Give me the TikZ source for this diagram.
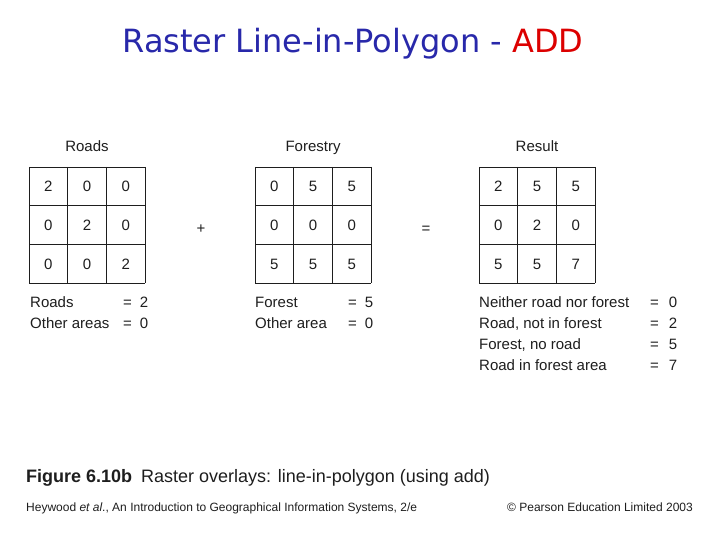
\documentclass[tikz,border=0pt]{standalone}
\usepackage{fontspec}
\setmainfont{Liberation Sans}
\newfontfamily\titlefont{DejaVu Sans}
\definecolor{tblue}{RGB}{40,40,170}
\definecolor{tred}{RGB}{220,0,0}
\definecolor{gridc}{RGB}{30,30,30}
\begin{document}
\begin{tikzpicture}[x=1pt,y=-1pt,
  txt/.style={inner sep=0pt,font=\fontsize{15}{17}\selectfont,text=gridc,text height=10.8pt,text depth=3pt},
  lt/.style={txt,anchor=west},
  num/.style={txt}]
\useasboundingbox[fill=white] (0,0) rectangle (720,540);
\node[inner sep=0pt,font=\titlefont\fontsize{32}{36}\selectfont] (title) at (353,44) {\textcolor{tblue}{Raster Line-in-Polygon - }\textcolor{tred}{ADD}};
% grids
\foreach \gx/\name/\lab/\vals in {29/roads/Roads/{2,0,0,0,2,0,0,0,2},255/forest/Forestry/{0,5,5,0,0,0,5,5,5},479/result/Result/{2,5,5,0,2,0,5,5,7}}{
  \foreach \k in {0,1,2,3}{
    \draw[gridc,line width=0.8pt] (\gx+38.7*\k,167) -- (\gx+38.7*\k,283.1);
    \draw[gridc,line width=0.8pt] (\gx,167+38.7*\k) -- (\gx+116.1,167+38.7*\k);
  }
  \node[txt] (\name-h) at (\gx+58,148) {\lab};
  \foreach \v [count=\i from 0] in \vals {
    \pgfmathtruncatemacro\r{int(\i/3)}
    \pgfmathtruncatemacro\c{mod(\i,3)}
    \node[num] (\name-\i) at (\gx+19.35+38.7*\c,188+38.7*\r) {\v};
  }
}
\node[num] (plus) at (201,230) {+};
\node[num] (eq) at (426,230) {=};
% legends
\node[lt] (l1) at (30,304) {Roads};
\node[lt] (l1e) at (123,304) {=\hspace{8pt}2};
\node[lt] (l2) at (30,325) {Other areas};
\node[lt] (l2e) at (123,325) {=\hspace{8pt}0};
\node[lt] (f1) at (255,304) {Forest};
\node[lt] (f1e) at (348,304) {=\hspace{8pt}5};
\node[lt] (f2) at (255,325) {Other area};
\node[lt] (f2e) at (348,325) {=\hspace{8pt}0};
\node[lt] (r1) at (479,304) {Neither road nor forest};
\node[lt] (r1e) at (650,304) {=\hspace{10pt}0};
\node[lt] (r2) at (479,325) {Road, not in forest};
\node[lt] (r2e) at (650,325) {=\hspace{10pt}2};
\node[lt] (r3) at (479,346) {Forest, no road};
\node[lt] (r3e) at (650,346) {=\hspace{10pt}5};
\node[lt] (r4) at (479,367) {Road in forest area};
\node[lt] (r4e) at (650,367) {=\hspace{10pt}7};
% caption
\node[lt,font=\fontsize{18}{20}\selectfont] (cap) at (26,479) {\textbf{Figure 6.10b}\hspace{9pt}Raster overlays: line-in-polygon (using add)};
\node[lt,font=\fontsize{12}{13}\selectfont] (foot) at (26,508) {Heywood \textit{et al}., An Introduction to Geographical Information Systems, 2/e};
\node[txt,anchor=east,font=\fontsize{12}{13}\selectfont] (copy) at (693,508) {© Pearson Education Limited 2003};
\end{tikzpicture}
\end{document}
